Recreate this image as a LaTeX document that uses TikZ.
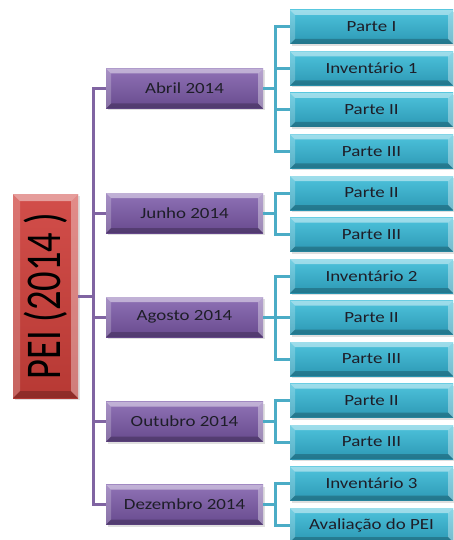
\documentclass[tikz,border=0pt]{standalone}
\usepackage{fontspec}
\setmainfont{Carlito}
\usetikzlibrary{shadows}
\definecolor{plin}{HTML}{8064A2}
\definecolor{clin}{HTML}{4BACC6}
\definecolor{ptop}{HTML}{8F72B6}
\definecolor{pbot}{HTML}{684A8E}
\definecolor{ctop}{HTML}{4EC3DC}
\definecolor{cbot}{HTML}{2C98B4}
\definecolor{rtop}{HTML}{D24E4A}
\definecolor{rbot}{HTML}{B73934}
\definecolor{txt}{HTML}{1E1E28}
\newcommand\wtx[1]{\scalebox{1.22}[1]{#1}}
\tikzset{
  bev/.style={path picture={
    \coordinate (@nw) at (path picture bounding box.north west);
    \coordinate (@ne) at (path picture bounding box.north east);
    \coordinate (@sw) at (path picture bounding box.south west);
    \coordinate (@se) at (path picture bounding box.south east);
    \coordinate (@inw) at ([xshift=#1,yshift=-#1]@nw);
    \coordinate (@ine) at ([xshift=-#1,yshift=-#1]@ne);
    \coordinate (@isw) at ([xshift=#1,yshift=#1]@sw);
    \coordinate (@ise) at ([xshift=-#1,yshift=#1]@se);
    \fill[white,opacity=.45] (@nw)--(@ne)--(@ine)--(@inw)--cycle;
    \fill[white,opacity=.22] (@nw)--(@inw)--(@isw)--(@sw)--cycle;
    \fill[white,opacity=.35] (@ne)--(@se)--(@ise)--(@ine)--cycle;
    \fill[black,opacity=.22] (@sw)--(@isw)--(@ise)--(@se)--cycle;
  }},
  box/.style={rectangle, inner sep=0pt, text=txt,
    font=\fontsize{15.5}{16}\selectfont,
    drop shadow={shadow xshift=1.5pt, shadow yshift=-2pt, opacity=.25}},
  month/.style={box, minimum width=157pt, minimum height=40pt,
    top color=ptop, bottom color=pbot, bev=5pt},
  part/.style={box, minimum width=163pt, minimum height=34pt,
    top color=ctop, bottom color=cbot, bev=5pt},
  root/.style={box, minimum width=65pt, minimum height=204pt,
    top color=rtop, bottom color=rbot, bev=7pt},
  pline/.style={draw=plin, line width=3pt},
  cline/.style={draw=clin, line width=3pt},
}
\begin{document}
\begin{tikzpicture}[x=1pt,y=-1pt]
\useasboundingbox (0,0) rectangle (454,540);
\node[root] (pei) at (45.5,296) {};
\node[rotate=90, text=black] (peit) at (pei.center) {\scalebox{0.77}[1]{\fontsize{50}{50}\selectfont PEI (2014 )}};

\node[month] (abr) at (184.5,88.5) {\wtx{Abril 2014}};
\node[month] (jun) at (184.5,213) {\wtx{Junho 2014}};
\node[month] (ago) at (184.5,317) {\wtx{Agosto 2014}};
\node[month] (out) at (184.5,421.5) {\wtx{Outubro 2014}};
\node[month] (dez) at (184.5,504.5) {\wtx{Dezembro 2014}};

\node[part] (c1) at (371.5,27) {\wtx{Parte I}};
\node[part] (c2) at (371.5,68.5) {\wtx{Inventário 1}};
\node[part] (c3) at (371.5,110) {\wtx{Parte II}};
\node[part] (c4) at (371.5,151.5) {\wtx{Parte III}};
\node[part] (c5) at (371.5,193) {\wtx{Parte II}};
\node[part] (c6) at (371.5,234.5) {\wtx{Parte III}};
\node[part] (c7) at (371.5,276) {\wtx{Inventário 2}};
\node[part] (c8) at (371.5,317.5) {\wtx{Parte II}};
\node[part] (c9) at (371.5,359) {\wtx{Parte III}};
\node[part] (c10) at (371.5,400.5) {\wtx{Parte II}};
\node[part] (c11) at (371.5,442) {\wtx{Parte III}};
\node[part] (c12) at (371.5,483.5) {\wtx{Inventário 3}};
\node[part] (c13) at (371.5,525) {\wtx{Avaliação do PEI}};

\coordinate (tx) at (93,0);
\coordinate (cx) at (275,0);

\draw[pline] (abr.west) -- (abr.west -| tx) -- (dez.west -| tx) -- (dez.west);
\draw[pline] (pei.east) -- (pei.east -| tx);
\foreach \m in {jun,ago,out}{\draw[pline] (\m.west) -- (\m.west -| tx);}

\draw[cline] (abr.east) -- (abr.east -| cx);
\draw[cline] (c1.west) -- (c1.west -| cx) -- (c4.west -| cx) -- (c4.west);
\draw[cline] (c2.west) -- (c2.west -| cx);
\draw[cline] (c3.west) -- (c3.west -| cx);

\draw[cline] (jun.east) -- (jun.east -| cx);
\draw[cline] (c5.west) -- (c5.west -| cx) -- (c6.west -| cx) -- (c6.west);

\draw[cline] (ago.east) -- (ago.east -| cx);
\draw[cline] (c7.west) -- (c7.west -| cx) -- (c9.west -| cx) -- (c9.west);
\draw[cline] (c8.west) -- (c8.west -| cx);

\draw[cline] (out.east) -- (out.east -| cx);
\draw[cline] (c10.west) -- (c10.west -| cx) -- (c11.west -| cx) -- (c11.west);

\draw[cline] (dez.east) -- (dez.east -| cx);
\draw[cline] (c12.west) -- (c12.west -| cx) -- (c13.west -| cx) -- (c13.west);
\end{tikzpicture}
\end{document}
